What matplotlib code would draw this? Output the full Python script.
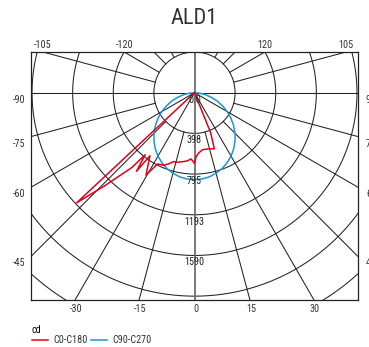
import numpy as np
import matplotlib
matplotlib.use("Agg")
import matplotlib.pyplot as plt
from matplotlib import font_manager

title = "ALD1"
ring_step = 397.5
ring_labels = ["0.0", "398", "795", "1193", "1590"]

# C0-C180 plane: gamma in degrees (negative = C180 side), intensity in cd
c0_gamma = [-90, -50, -47, -44, -40, -38.5, -36.5, -35.3, -30.5, -27.5, -23, -20,
            -17, -14, -10, -6, -3, 0, 1.5, 4, 8, 14, 19.5, 22, 25, 90]
c0_cd = [0, 0, 1578, 1262, 955, 775, 955, 755, 935, 785, 770, 740,
         705, 700, 685, 670, 648, 690, 625, 590, 563, 565, 582, 421, 0, 0]

# C90-C270 plane
c90_gamma = list(range(-90, 91, 5))
c90_cd = [0, 45, 104, 168, 235, 302, 370, 436, 500, 561, 617, 669, 715, 755,
          789, 815, 835, 846, 850, 846, 835, 815, 789, 755, 715, 669, 617, 561,
          500, 436, 370, 302, 235, 168, 104, 45, 0]

top_angles = [-105, -120, 120, 105]
left_angles = [-90, -75, -60, -45]
right_angles = [90, 75, 60, 45]
bottom_angles = [-30, -15, 0, 15, 30]

# pick a narrow font if one is installed
available = {f.name for f in font_manager.fontManager.ttflist}
narrow = next((n for n in ["Liberation Sans Narrow", "Roboto Condensed"] if n in available), None)
if narrow:
    plt.rcParams["font.family"] = [narrow, "DejaVu Sans"]
else:
    plt.rcParams["font.family"] = ["DejaVu Sans"]
    plt.rcParams["font.stretch"] = "condensed"

fig = plt.figure(figsize=(3.69, 3.47), dpi=100)
fig.patch.set_facecolor("white")
ax = fig.add_axes([31 / 369, 47 / 347, 327 / 369, 248 / 347])
xlim = (-1600, 1600)
ylim = (-2025, ring_step)
ax.set_xlim(*xlim)
ax.set_ylim(*ylim)
ax.set_xticks([])
ax.set_yticks([])
for s in ax.spines.values():
    s.set_linewidth(0.9)
    s.set_color("#222222")

grid_kw = dict(color="#222222", lw=0.75, zorder=1)

# rings
t = np.linspace(0, 2 * np.pi, 721)
for k in range(1, 8):
    r = k * ring_step
    ax.plot(r * np.sin(t), r * np.cos(t), **grid_kw)

# radial lines every 15 degrees
for g in range(-165, 180, 15):
    if g in (0, -90, 90):
        continue
    start = 0 if g in (-60, -30, 30, 60) else ring_step
    a = np.radians(g)
    ax.plot([start * np.sin(a), 5000 * np.sin(a)],
            [-start * np.cos(a), -5000 * np.cos(a)], **grid_kw)
ax.axhline(0, **grid_kw)
ax.axvline(0, color="#6e6e6e", lw=1.3, zorder=1)

# curves
g90 = np.radians(c90_gamma)
blue, = ax.plot(np.array(c90_cd) * np.sin(g90), -np.array(c90_cd) * np.cos(g90),
                color="#1a96d6", lw=1.1, zorder=3, label="C90-C270")
g0 = np.radians(c0_gamma)
red, = ax.plot(np.array(c0_cd) * np.sin(g0), -np.array(c0_cd) * np.cos(g0),
               color="#e2001a", lw=1.1, zorder=4, label="C0-C180")

# ring labels
for k, lab in enumerate(ring_labels):
    ax.annotate(lab, (0, -k * ring_step), xytext=(0, -7 * 0.72), textcoords="offset points",
                ha="center", va="center", fontsize=7.3, color="#222222", zorder=5)

# angle labels around the frame
lab_kw = dict(textcoords="offset points", fontsize=7.3, color="#333333", annotation_clip=False)
for g in top_angles:
    a = np.radians(g)
    y = ylim[1]
    x = y * np.sin(a) / -np.cos(a)
    ax.annotate(str(g), (x, y), xytext=(0, 2 * 0.72), ha="center", va="bottom", **lab_kw)
for g in bottom_angles:
    a = np.radians(g)
    y = ylim[0]
    x = y * np.sin(a) / -np.cos(a)
    ax.annotate(str(g), (x, y), xytext=(1 * 0.72, -4 * 0.72), ha="center", va="top", **lab_kw)
for g in left_angles:
    a = np.radians(g)
    x = xlim[0]
    y = x * -np.cos(a) / np.sin(a)
    ax.annotate(str(g), (x, y), xytext=(-6 * 0.72, -7 * 0.72), ha="right", va="center", **lab_kw)
for g in right_angles:
    a = np.radians(g)
    x = xlim[1]
    y = x * -np.cos(a) / np.sin(a)
    ax.annotate(str(g), (x, y), xytext=(8 * 0.72, -7 * 0.72), ha="left", va="center", **lab_kw)

fig.text(194 / 369, 1 - 18 / 347, title, ha="center", va="center", fontsize=16, color="#333333")

fig.legend(handles=[red, blue], title="cd", loc="upper left",
           bbox_to_anchor=(32 / 369, 1 - 325 / 347), ncol=2, frameon=False,
           fontsize=7.3, title_fontsize=7.3, handlelength=1.6, handletextpad=0.5,
           columnspacing=0.3, alignment="left", borderpad=0, borderaxespad=0,
           labelspacing=0.0, handleheight=0.5, labelcolor="#333333")

fig.savefig("out.png", dpi=100)
